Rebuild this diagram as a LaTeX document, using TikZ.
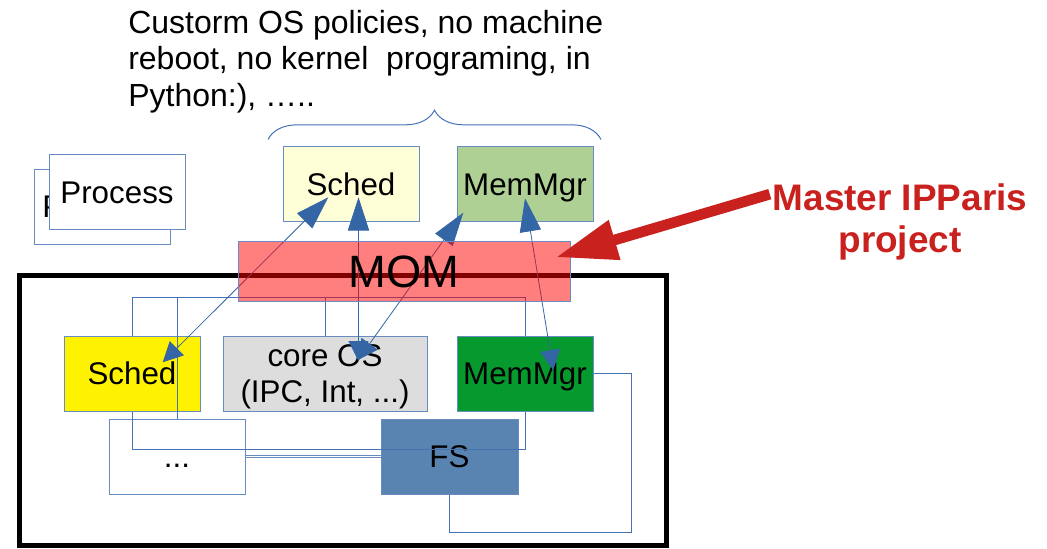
\documentclass[tikz,border=0pt]{standalone}
\usepackage{fontspec}
\setmainfont{Liberation Sans}
\usetikzlibrary{arrows.meta,positioning,calc,decorations.pathreplacing}
\definecolor{lineblue}{RGB}{69,114,180}
\definecolor{edgeblue}{RGB}{104,140,194}
\definecolor{tipblue}{RGB}{52,101,164}
\definecolor{paleyellow}{RGB}{255,255,215}
\definecolor{palegreen}{RGB}{175,208,149}
\definecolor{deepgreen}{RGB}{6,154,46}
\definecolor{coregray}{RGB}{221,221,221}
\definecolor{fsblue}{RGB}{89,131,176}
\definecolor{masterred}{RGB}{201,33,30}

\begin{document}
\begin{tikzpicture}[
  x=0.75pt, y=-0.75pt,
  font=\fontsize{23.5}{26.5}\selectfont,
  box/.style={draw=edgeblue, line width=0.75pt, minimum width=102pt, minimum height=56.25pt, inner sep=0pt},
  solo/.style={box, text height=21.3pt, text depth=5pt},
  bus/.style={draw=lineblue, line width=0.75pt},
  dbl/.style={draw=edgeblue, line width=0.6pt, double=white, double distance=0.9pt},
  biarr/.style={{Triangle[length=15pt,width=15pt]}-{Triangle[length=25pt,width=16pt]}, draw=tipblue, line width=0.6pt},
  redarr/.style={-{Triangle[length=46pt,width=29pt]}, draw=masterred, line width=8pt}
]
\useasboundingbox (0,0) rectangle (1047,549);
\node[draw, line width=3.75pt, minimum width=485.25pt, minimum height=202.5pt, inner sep=0pt] (kernel) at (342.5,410.5) {};
\node[solo] (proc2) at (102,207) {Process\kern4.5pt};
\node[solo, fill=white] (proc) at (117,192.5) {Process};
\node[solo, fill=paleyellow] (schedtop) at (351,184.5) {Sched};
\node[solo, fill=palegreen] (memtop) at (525,184.5) {MemMgr};
\node[solo, fill=yellow] (schedlow) at (132,373.5) {Sched};
\node[box, fill=coregray, minimum width=153pt, align=center] (coreos) at (325,373.5) {\rule{0pt}{21.3pt}core OS\\(IPC, Int, ...)};
\node[solo, fill=deepgreen] (memlow) at (525,373.5) {MemMgr};
\node[solo, fill=white] (dots) at (177,456.5) {...};
\node[solo, fill=fsblue, minimum width=102.75pt] (fs) at (449.5,456.5) {FS};
\coordinate (bus) at (0,298);
\coordinate (loop) at (0,449);
\coordinate (ret) at (631,532.3);
\draw[bus] (schedlow.north) -- (schedlow.north |- bus) -| (memlow.north);
\draw[bus] (coreos.north) -- (coreos.north |- bus);
\draw[bus] (dots.north) -- (dots.north |- bus);
\draw[bus] (schedlow.south) -- (schedlow.south |- loop) -| (memlow.south);
\draw[bus] (memlow.east) -| (ret) -| (fs.south);
\draw[dbl] (dots) -- (fs);
\draw[biarr] ($(schedlow)+(30.7,-11.2)$) -- ($(schedtop)+(-22.7,12.8)$);
\draw[biarr] ($(coreos)+(33.5,-12.5)$) -- ($(schedtop)+(7.5,12.8)$);
\draw[biarr] ($(coreos)+(33,-13.5)$) -- ($(memtop)+(-61.7,28.2)$);
\draw[biarr] ($(memlow)+(28.3,-3.5)$) -- ($(memtop)+(0,13.8)$);
\node[box, fill=red, fill opacity=0.5, text opacity=1, minimum width=249pt, minimum height=45pt, font=\fontsize{34}{40}\selectfont] (mom) at (404,272) {MOM};
\node[anchor=north west, inner sep=0pt, align=left, font=\fontsize{24}{27.4}\selectfont] (note) at (128,9.9) {Custorm OS policies, no machine\\reboot, no kernel~ programing, in\\Python:), …..};
\node[anchor=north, inner sep=0pt, align=center, text=masterred, font=\fontsize{27.7}{31.8}\selectfont\bfseries] (master) at (900,183.5) {Master IPParis\\project};
\draw[redarr] ([xshift=-2pt,yshift=-8pt]master.north west) -- ([xshift=-11pt,yshift=11pt]mom.east);
\coordinate (bl) at (268,139.5);
\coordinate (br) at (601,139.5);
\draw[lineblue, line width=0.75pt, decorate, decoration={brace, amplitude=22pt}] (bl) -- (br);
\end{tikzpicture}
\end{document}
